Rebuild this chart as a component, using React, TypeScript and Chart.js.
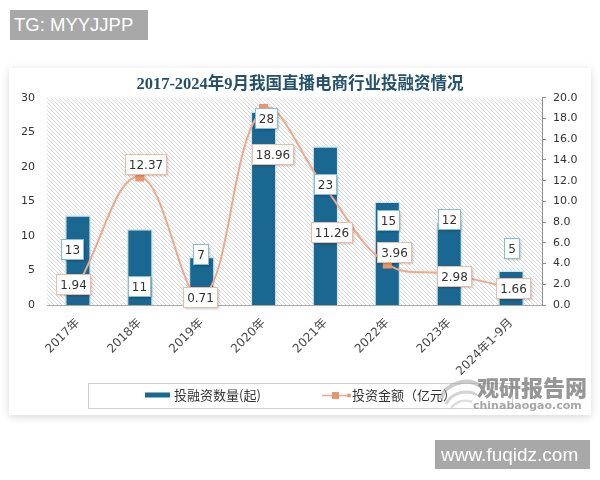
import React, { useEffect, useRef } from "react";
import { Chart, registerables } from "chart.js";

Chart.register(...registerables);

// ---- data ----
const categories = ["2017年", "2018年", "2019年", "2020年", "2021年", "2022年", "2023年", "2024年1-9月"];
const dealCounts = [13, 11, 7, 28, 23, 15, 12, 5];
const dealAmounts = [1.94, 12.37, 0.71, 18.96, 11.26, 3.96, 2.98, 1.66];
const countSeriesName = "投融资数量(起)";
const amountSeriesName = "投资金额（亿元）";
const chartTitle = "2017-2024年9月我国直播电商行业投融资情况";

// ---- label layout (pixel shifts of the value boxes from their bar top / point) ----
const countLabelShift = [[-6, 34], [-1, 57], [-1, -3], [2, 6], [0, 38], [1, 19], [0, -3], [0, -22]];
const amountLabelShift = [[-5, -1], [6, -13], [-2, -1], [9, 45], [6, 44], [7, -12], [5, 2], [2, 0]];

const BAR_COLOR = "#1a6791";
const LINE_COLOR = "#eea98b";
const MARKER_COLOR = "#e9956f";

const hatchPlugin = {
  id: "hatchBg",
  beforeDraw(chart: any) {
    const { ctx, chartArea: a } = chart;
    const p = document.createElement("canvas");
    p.width = 4;
    p.height = 4;
    const pc = p.getContext("2d")!;
    pc.fillStyle = "#ffffff";
    pc.fillRect(0, 0, 4, 4);
    pc.strokeStyle = "#d9d9d9";
    pc.lineWidth = 1;
    pc.beginPath();
    pc.moveTo(-1, -1);
    pc.lineTo(5, 5);
    pc.moveTo(-1, 3);
    pc.lineTo(1, 5);
    pc.moveTo(3, -1);
    pc.lineTo(5, 1);
    pc.stroke();
    const pat = ctx.createPattern(p, "repeat");
    ctx.save();
    ctx.fillStyle = pat;
    ctx.fillRect(a.left, a.top, a.right - a.left, a.bottom - a.top);
    ctx.restore();
  },
};

function drawValueBox(ctx: CanvasRenderingContext2D, x: number, y: number, text: string, border: string) {
  ctx.save();
  ctx.font = "12px 'DejaVu Sans', sans-serif";
  const w = Math.round(ctx.measureText(text).width + 7);
  const h = 20;
  const l = Math.round(x - w / 2) + 0.5;
  const t = Math.round(y - h / 2) + 0.5;
  ctx.shadowColor = "rgba(0,0,0,0.22)";
  ctx.shadowBlur = 2;
  ctx.shadowOffsetX = 1;
  ctx.shadowOffsetY = 1;
  ctx.fillStyle = "#ffffff";
  ctx.fillRect(l, t, w, h);
  ctx.shadowColor = "transparent";
  ctx.strokeStyle = border;
  ctx.lineWidth = 1;
  ctx.strokeRect(l, t, w, h);
  ctx.fillStyle = "#333333";
  ctx.textAlign = "center";
  ctx.textBaseline = "middle";
  ctx.fillText(text, l + w / 2, t + h / 2 + 1);
  ctx.restore();
}

const valueLabelPlugin = {
  id: "valueLabels",
  afterDatasetsDraw(chart: any) {
    const ctx = chart.ctx;
    const lineMeta = chart.getDatasetMeta(0);
    const barMeta = chart.getDatasetMeta(1);
    barMeta.data.forEach((el: any, i: number) => {
      const s = countLabelShift[i];
      drawValueBox(ctx, el.x + s[0], el.y + s[1], String(dealCounts[i]), "#86bfd3");
    });
    lineMeta.data.forEach((el: any, i: number) => {
      const s = amountLabelShift[i];
      drawValueBox(ctx, el.x + s[0], el.y + s[1], dealAmounts[i].toFixed(2), "#eebca5");
    });
  },
};

const legendBoxPlugin = {
  id: "legendBox",
  afterDraw(chart: any) {
    const ctx = chart.ctx;
    const cx = chart.width / 2;
    const top = chart.height - 32;
    const cy = top + 12.5;
    const ds = chart.data.datasets;
    ctx.save();
    ctx.strokeStyle = "#cfcfcf";
    ctx.lineWidth = 1;
    ctx.strokeRect(Math.round(cx - 212) + 0.5, top + 0.5, 424, 25);
    // bar swatch
    ctx.fillStyle = ds[1].backgroundColor;
    ctx.fillRect(cx - 155, cy - 3, 25, 5);
    ctx.font = "13px 'Noto Sans CJK SC', sans-serif";
    ctx.fillStyle = "#333";
    ctx.textBaseline = "middle";
    ctx.textAlign = "left";
    ctx.fillText(ds[1].label, cx - 126, cy);
    // line swatch
    ctx.strokeStyle = ds[0].borderColor;
    ctx.lineWidth = 1.5;
    ctx.beginPath();
    ctx.moveTo(cx + 22, cy);
    ctx.lineTo(cx + 49, cy);
    ctx.stroke();
    ctx.fillStyle = MARKER_COLOR;
    ctx.fillRect(cx + 32, cy - 3.5, 7, 7);
    ctx.beginPath();
    ctx.arc(cx + 49, cy, 2, 0, Math.PI * 2);
    ctx.fill();
    ctx.fillStyle = "#333";
    ctx.fillText(ds[0].label, cx + 52, cy);
    ctx.restore();
  },
};

function ChartCanvas() {
  const ref = useRef<HTMLCanvasElement | null>(null);
  useEffect(() => {
    if (!ref.current) return;
    const tickFont = { family: "'DejaVu Sans', 'Noto Sans CJK SC', sans-serif", size: 11 };
    const xTickFont = { family: "'DejaVu Sans', 'Noto Sans CJK SC', sans-serif", size: 12 };
    const chart = new Chart(ref.current, {
      type: "bar",
      data: {
        labels: categories,
        datasets: [
          {
            type: "line",
            label: amountSeriesName,
            data: dealAmounts,
            yAxisID: "y1",
            borderColor: LINE_COLOR,
            backgroundColor: MARKER_COLOR,
            borderWidth: 2,
            tension: 0.4,
            pointStyle: "rect",
            pointRadius: 5,
            pointBackgroundColor: MARKER_COLOR,
            pointBorderColor: MARKER_COLOR,
            order: 0,
          } as any,
          {
            type: "bar",
            label: countSeriesName,
            data: dealCounts,
            yAxisID: "y",
            backgroundColor: BAR_COLOR,
            borderColor: "#c9e3ef",
            borderWidth: 1.5,
            barPercentage: 0.42,
            categoryPercentage: 1,
            order: 1,
          } as any,
        ],
      },
      options: {
        responsive: false,
        animation: false,
        layout: { padding: { left: 0, right: 0, top: 0, bottom: 40 } },
        plugins: {
          legend: { display: false },
          tooltip: { enabled: false },
          title: {
            display: true,
            text: chartTitle,
            color: "#24506b",
            font: { family: "'Liberation Serif', 'Noto Sans CJK SC', serif", size: 16.5, weight: "bold" },
            padding: { top: 7, bottom: 3 },
          },
        },
        scales: {
          x: {
            grid: { display: false, drawTicks: false },
            border: { display: true, color: "#a8a8a8" },
            ticks: { minRotation: 45, maxRotation: 45, color: "#4a4a4a", font: xTickFont, padding: 11 },
            afterFit(s: any) {
              s.height = 70;
            },
          },
          y: {
            position: "left",
            min: 0,
            max: 30,
            ticks: { stepSize: 5, color: "#333", font: tickFont, padding: 12 },
            grid: { display: false, drawTicks: false },
            border: { display: false },
            afterFit(s: any) {
              s.width = 38;
            },
          },
          y1: {
            position: "right",
            min: 0,
            max: 20,
            ticks: {
              stepSize: 2,
              color: "#333",
              font: tickFont,
              padding: 7,
              callback: (v: any) => Number(v).toFixed(1),
            },
            grid: { drawOnChartArea: false, drawTicks: true, tickLength: 4, color: "#8c8c8c" },
            border: { display: true, color: "#8c8c8c" },
            afterFit(s: any) {
              s.width = 49;
            },
          },
        },
      } as any,
      plugins: [hatchPlugin, valueLabelPlugin, legendBoxPlugin],
    });
    return () => chart.destroy();
  }, []);
  return <canvas ref={ref} width={582} height={347} style={{ display: "block", width: 582, height: 347 }} />;
}

export default function App() {
  const grayBox: React.CSSProperties = {
    position: "absolute",
    background: "#a8a8a8",
    color: "#ffffff",
    fontFamily: "'Liberation Sans', Arial, sans-serif",
    boxSizing: "border-box",
    whiteSpace: "nowrap",
  };
  return (
    <div style={{ position: "fixed", left: 0, top: 0, width: 600, height: 480, background: "#fff", overflow: "hidden" }}>
      <div style={{ ...grayBox, left: 10, top: 10, width: 138, height: 30, lineHeight: "30px", fontSize: 18.5, paddingLeft: 4 }}>
        TG: MYYJJPP
      </div>
      <div
        style={{
          position: "absolute",
          left: 9,
          top: 68,
          width: 582,
          height: 347,
          background: "#fff",
          boxShadow: "0 2px 8px rgba(0,0,0,0.16)",
        }}
      >
        <ChartCanvas />
      </div>
      <svg style={{ position: "absolute", left: 438, top: 375 }} width={44} height={34} viewBox="0 0 44 34">
        <path d="M3 24 C 7 8, 30 2, 42 11" stroke="#aaa" strokeWidth={4} fill="none" opacity={0.6} />
        <path d="M8 29 C 14 17, 30 14, 39 20" stroke="#b0b0b0" strokeWidth={3} fill="none" opacity={0.55} />
        <path d="M13 33 C 19 26, 27 24, 34 27" stroke="#bbb" strokeWidth={2.5} fill="none" opacity={0.5} />
      </svg>
      <div
        style={{
          position: "absolute",
          left: 477,
          top: 375,
          fontFamily: "'Noto Sans CJK SC', sans-serif",
          fontWeight: 900,
          fontSize: 22,
          lineHeight: "22px",
          color: "rgba(125,125,125,0.8)",
          whiteSpace: "nowrap",
        }}
      >
        观研报告网
      </div>
      <div
        style={{
          position: "absolute",
          left: 473,
          top: 399,
          fontFamily: "'DejaVu Sans', sans-serif",
          fontWeight: "bold",
          fontSize: 11,
          lineHeight: "13px",
          color: "rgba(150,150,150,0.85)",
          whiteSpace: "nowrap",
        }}
      >
        chinabaogao.com
      </div>
      <div style={{ ...grayBox, left: 435, top: 440, width: 155, height: 29, lineHeight: "29px", fontSize: 19, paddingLeft: 6 }}>
        www.fuqidz.com
      </div>
    </div>
  );
}
